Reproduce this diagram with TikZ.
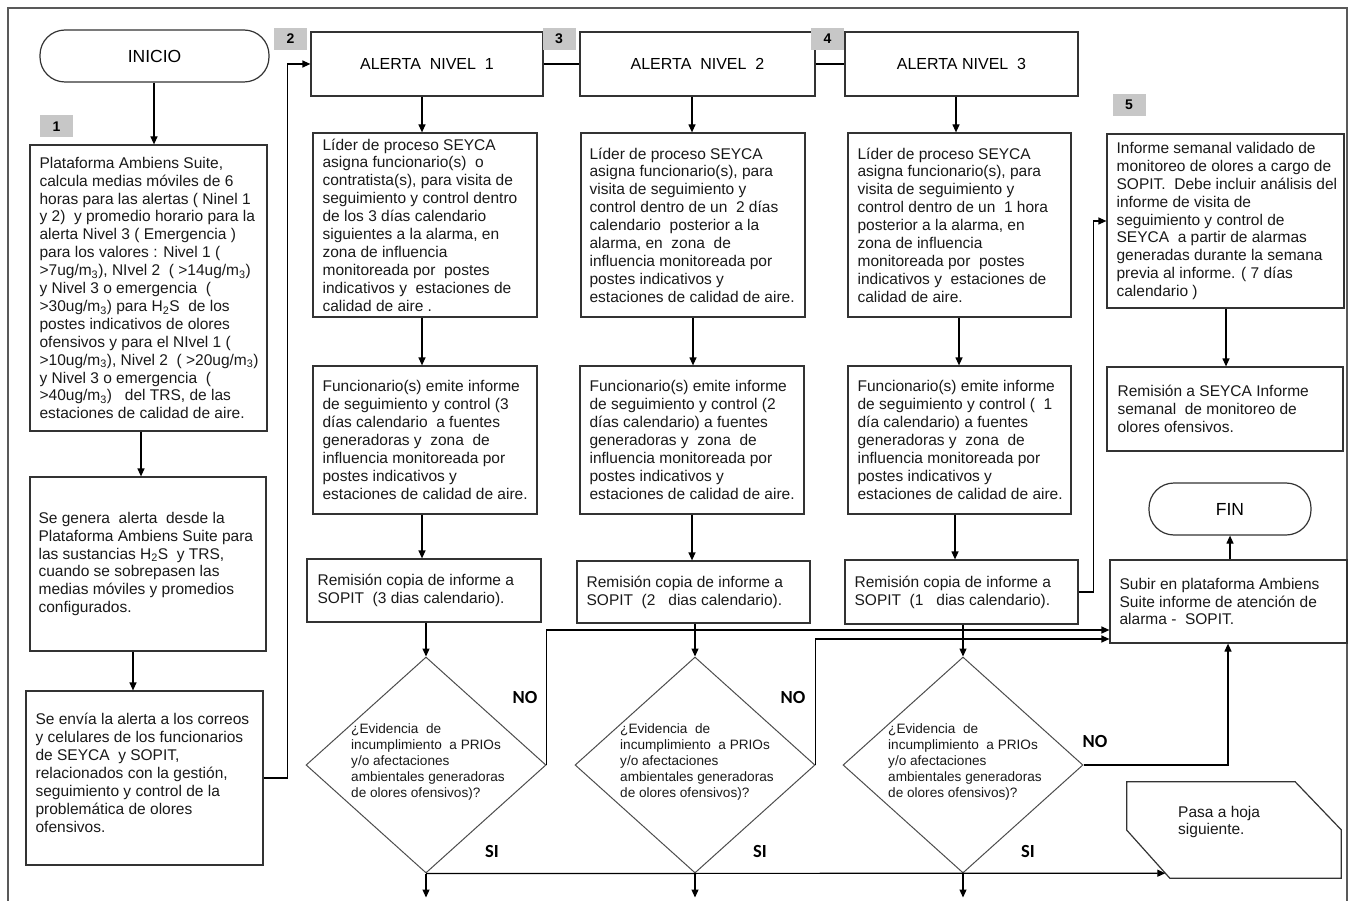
\documentclass[tikz,border=0pt]{standalone}
\usepackage{fontspec}
\setmainfont{Liberation Sans}
\newfontfamily\calib{Carlito}
\usetikzlibrary{arrows.meta,shapes.geometric,calc}
\newcommand\sbs[1]{\textsubscript{#1}}
\begin{document}
\begin{tikzpicture}[x=1pt,y=-1pt,
  box/.style={draw=black!80, line width=1.2pt, inner sep=0pt},
  term/.style={draw=black!80, line width=1.2pt, rounded corners=25pt, inner sep=0pt, font=\fontsize{17.5}{20}\selectfont},
  alert/.style={draw=black!80, line width=1.2pt, inner sep=0pt, font=\fontsize{16}{19}\selectfont},
  dia/.style={draw=black!70, line width=1pt, diamond, inner sep=0pt, minimum width=240pt, minimum height=216pt},
  txt/.style={inner sep=0pt, align=left, anchor=west, text=black!90, font=\fontsize{15.5}{17.9}\selectfont},
  dtxt/.style={inner sep=0pt, align=left, anchor=west, text=black!90, font=\fontsize{13.6}{16}\selectfont},
  num/.style={fill=black!22, inner sep=0pt, minimum width=33pt, minimum height=22pt, font=\fontsize{14}{16}\selectfont\bfseries},
  lbl/.style={inner sep=0pt, font=\calib\fontsize{18.5}{20}\selectfont\bfseries},
  arr/.style={draw=black, line width=1.2pt, -{Triangle[length=8pt,width=7pt]}},
  con/.style={draw=black, line width=1.2pt},
  frame/.style={draw=black!65, line width=2pt}
]
\useasboundingbox (0,0) rectangle (1356,901);
\draw[frame] (8,901) -- (8,8) -- (1347,8) -- (1347,901);

% left column
\node[term, minimum width=229pt, minimum height=52pt] (start) at (154.5,56) {INICIO};
\node[box, minimum width=237pt, minimum height=286pt] (b1) at (148.5,288) {};
\node[box, minimum width=236pt, minimum height=174pt] (b2) at (148,564) {};
\node[box, minimum width=237pt, minimum height=174pt] (b3) at (144.5,778) {};
\node[txt] (tb1) at ([xshift=10pt]b1.west) {Plataforma Ambiens Suite,\\
calcula medias móviles de 6\\
horas para las alertas ( Ninel 1\\
y 2)\ \ y promedio horario para la\\
alerta Nivel 3 ( Emergencia )\\
para los valores : Nivel 1 (\\
>7ug/m\sbs{3}), NIvel 2\ \ ( >14ug/m\sbs{3})\\
y Nivel 3 o emergencia\ \ (\\
>30ug/m\sbs{3}) para H\sbs{2}S\ \ de los\\
postes indicativos de olores\\
ofensivos y para el NIvel 1 (\\
>10ug/m\sbs{3}), Nivel 2\ \ ( >20ug/m\sbs{3})\\
y Nivel 3 o emergencia\ \ (\\
>40ug/m\sbs{3})\ \ \ del TRS, de las\\
estaciones de calidad de aire.};
\node[txt] (tb2) at ([xshift=9pt]b2.west) {Se genera\ \ alerta\ \ desde la\\
Plataforma Ambiens Suite para\\
las sustancias H\sbs{2}S\ \ y TRS,\\
cuando se sobrepasen las\\
medias móviles y promedios\\
configurados.};
\node[txt] (tb3) at ([xshift=10pt,yshift=5pt]b3.west) {Se envía la alerta a los correos\\
y celulares de los funcionarios\\
de SEYCA\ \ y SOPIT,\\
relacionados con la gestión,\\
seguimiento y control de la\\
problemática de olores\\
ofensivos.};

% alert row
\node[alert, minimum width=232pt, minimum height=64pt] (an1) at (427,64) {ALERTA\ \ NIVEL\ \ 1};
\node[alert, minimum width=235pt, minimum height=64pt] (an2) at (697.5,64) {ALERTA\ \ NIVEL\ \ 2};
\node[alert, minimum width=233pt, minimum height=64pt] (an3) at (961.5,64) {ALERTA NIVEL\ \ 3};

% column boxes
\node[box, minimum width=224pt, minimum height=184pt] (l1) at (425,225) {};
\node[box, minimum width=224pt, minimum height=184pt] (l2) at (693,225) {};
\node[box, minimum width=223pt, minimum height=184pt] (l3) at (959.5,225) {};
\node[box, minimum width=224pt, minimum height=148pt] (f1) at (425,440) {};
\node[box, minimum width=224pt, minimum height=148pt] (f2) at (692,440) {};
\node[box, minimum width=223pt, minimum height=148pt] (f3) at (959.5,440) {};
\node[box, minimum width=234pt, minimum height=63pt] (r1) at (424,590.5) {};
\node[box, minimum width=233pt, minimum height=62pt] (r2) at (693.5,592) {};
\node[box, minimum width=233pt, minimum height=64pt] (r3) at (961.5,592) {};

\node[txt] (tl1) at ([xshift=10pt]l1.west) {Líder de proceso SEYCA\\
asigna funcionario(s)\ \ o\\
contratista(s), para visita de\\
seguimiento y control dentro\\
de los 3 días calendario\\
siguientes a la alarma, en\\
zona de influencia\\
monitoreada por\ \ postes\\
indicativos y\ \ estaciones de\\
calidad de aire .};
\node[txt] (tl2) at ([xshift=9pt]l2.west) {Líder de proceso SEYCA\\
asigna funcionario(s), para\\
visita de seguimiento y\\
control dentro de un\ \ 2 días\\
calendario\ \ posterior a la\\
alarma, en\ \ zona\ \ de\\
influencia monitoreada por\\
postes indicativos y\\
estaciones de calidad de aire.};
\node[txt] (tl3) at ([xshift=10pt]l3.west) {Líder de proceso SEYCA\\
asigna funcionario(s), para\\
visita de seguimiento y\\
control dentro de un\ \ 1 hora\\
posterior a la alarma, en\\
zona de influencia\\
monitoreada por\ \ postes\\
indicativos y\ \ estaciones de\\
calidad de aire.};

\node[txt] (tf1) at ([xshift=10pt]f1.west) {Funcionario(s) emite informe\\
de seguimiento y control (3\\
días calendario\ \ a fuentes\\
generadoras y\ \ zona\ \ de\\
influencia monitoreada por\\
postes indicativos y\\
estaciones de calidad de aire.};
\node[txt] (tf2) at ([xshift=10pt]f2.west) {Funcionario(s) emite informe\\
de seguimiento y control (2\\
días calendario) a fuentes\\
generadoras y\ \ zona\ \ de\\
influencia monitoreada por\\
postes indicativos y\\
estaciones de calidad de aire.};
\node[txt] (tf3) at ([xshift=10pt]f3.west) {Funcionario(s) emite informe\\
de seguimiento y control (\ \ 1\\
día calendario) a fuentes\\
generadoras y\ \ zona\ \ de\\
influencia monitoreada por\\
postes indicativos y\\
estaciones de calidad de aire.};

\node[txt] (tr1) at ([xshift=11pt]r1.west) {Remisión copia de informe a\\
SOPIT\ \ (3 dias calendario).};
\node[txt] (tr2) at ([xshift=10pt]r2.west) {Remisión copia de informe a\\
SOPIT\ \ (2\ \ \ dias calendario).};
\node[txt] (tr3) at ([xshift=10pt]r3.west) {Remisión copia de informe a\\
SOPIT\ \ (1\ \ \ dias calendario).};

% decisions
\node[dia] (d1) at (426,765) {};
\node[dia] (d2) at (695,765) {};
\node[dia] (d3) at (963,765) {};
\foreach \d in {d1,d2,d3}{
  \node[dtxt] at ([xshift=-75pt,yshift=3pt]\d.center) {¿Evidencia\ \ de\\
incumplimiento\ \ a PRIOs\\
y/o afectaciones\\
ambientales generadoras\\
de olores ofensivos)?};
}
\node[lbl] (no1) at (525,697) {NO};
\node[lbl] (no2) at (793,697) {NO};
\node[lbl] (no3) at (1095,741) {NO};
\node[lbl] (si1) at (492,851) {SI};
\node[lbl] (si2) at (760,851) {SI};
\node[lbl] (si3) at (1028,851) {SI};

% right column
\node[box, minimum width=237pt, minimum height=174pt] (inf) at (1225.5,221) {};
\node[box, minimum width=236pt, minimum height=84pt] (rs) at (1225,409) {};
\node[term, minimum width=162pt, minimum height=52pt] (fin) at (1230,509) {FIN};
\node[box, minimum width=237pt, minimum height=83pt] (sub) at (1228.5,601.5) {};
\node[txt] (tinf) at ([xshift=10pt]inf.west) {Informe semanal validado de\\
monitoreo de olores a cargo de\\
SOPIT.\ \ Debe incluir análisis del\\
informe de visita de\\
seguimiento y control de\\
SEYCA\ \ a partir de alarmas\\
generadas durante la semana\\
previa al informe. ( 7 días\\
calendario )};
\node[txt] (trs) at ([xshift=11pt]rs.west) {Remisión a SEYCA Informe\\
semanal\ \ de monitoreo de\\
olores ofensivos.};
\node[txt] (tsub) at ([xshift=10pt]sub.west) {Subir en plataforma Ambiens\\
Suite informe de atención de\\
alarma -\ \ SOPIT.};

% off-page connector
\node[inner sep=0pt, minimum width=214pt, minimum height=96pt] (pasa) at (1234,830) {};
\draw[box] (pasa.north west) -- ([xshift=-46pt]pasa.north east) -- ([yshift=-48pt]pasa.north east)
  -- (pasa.south east) -- ([xshift=43pt]pasa.south west) -- ([yshift=48pt]pasa.south west) -- cycle;
\node[txt] (tpasa) at (1178,822) {Pasa a hoja\\siguiente.};
\coordinate (pin) at ($(pasa.south west)+(38.5,-5)$);

% number labels
\node[num] (g1) at (56.5,126.5) {1};
\node[num] (g2) at (290.5,39) {2};
\node[num] (g3) at (559,39) {3};
\node[num] (g4) at (827.5,39) {4};
\node[num] (g5) at (1129,105) {5};

% connectors left
\draw[arr] (154,0 |- start.south) -- (154,0 |- b1.north);
\draw[arr] (141,0 |- b1.south) -- (141,0 |- b2.north);
\draw[arr] (133,0 |- b2.south) -- (133,0 |- b3.north);
\draw[arr] (b3.east) -- ++(24,0) |- (an1.west);
\draw[con] (an1.east) -- (an2.west);
\draw[con] (an2.east) -- (an3.west);

% column 1
\draw[arr] (422,0 |- an1.south) -- (422,0 |- l1.north);
\draw[arr] (422,0 |- l1.south) -- (422,0 |- f1.north);
\draw[arr] (422,0 |- f1.south) -- (422,0 |- r1.north);
\draw[arr] (426,0 |- r1.south) -- (d1.north);
% column 2
\draw[arr] (692,0 |- an2.south) -- (692,0 |- l2.north);
\draw[arr] (693,0 |- l2.south) -- (693,0 |- f2.north);
\draw[arr] (692,0 |- f2.south) -- (692,0 |- r2.north);
\draw[arr] (695,0 |- r2.south) -- (d2.north);
% column 3
\draw[arr] (956,0 |- an3.south) -- (956,0 |- l3.north);
\draw[arr] (959,0 |- l3.south) -- (959,0 |- f3.north);
\draw[arr] (955,0 |- f3.south) -- (955,0 |- r3.north);
\draw[arr] (963,0 |- r3.south) -- (d3.north);
% to weekly report
\draw[arr] (r3.east) -- ++(15,0) |- (inf.west);
\draw[arr] (1226,0 |- inf.south) -- (1226,0 |- rs.north);
\draw[arr] (1230,0 |- sub.north) -- (fin.south);
% NO branches
\draw[arr] (d1.east) |- (sub.west |- 0,630);
\draw[arr] (d2.east) |- (sub.west |- 0,639);
\draw[arr] (d3.east) -| (1228,0 |- sub.south);
% SI branches
\draw[arr] (d1.south) -- (pin);
\draw[arr] (d1.south) -- ++(0,24);
\draw[arr] (d2.south) -- ++(0,24);
\draw[arr] (d3.south) -- ++(0,24);
\end{tikzpicture}
\end{document}
